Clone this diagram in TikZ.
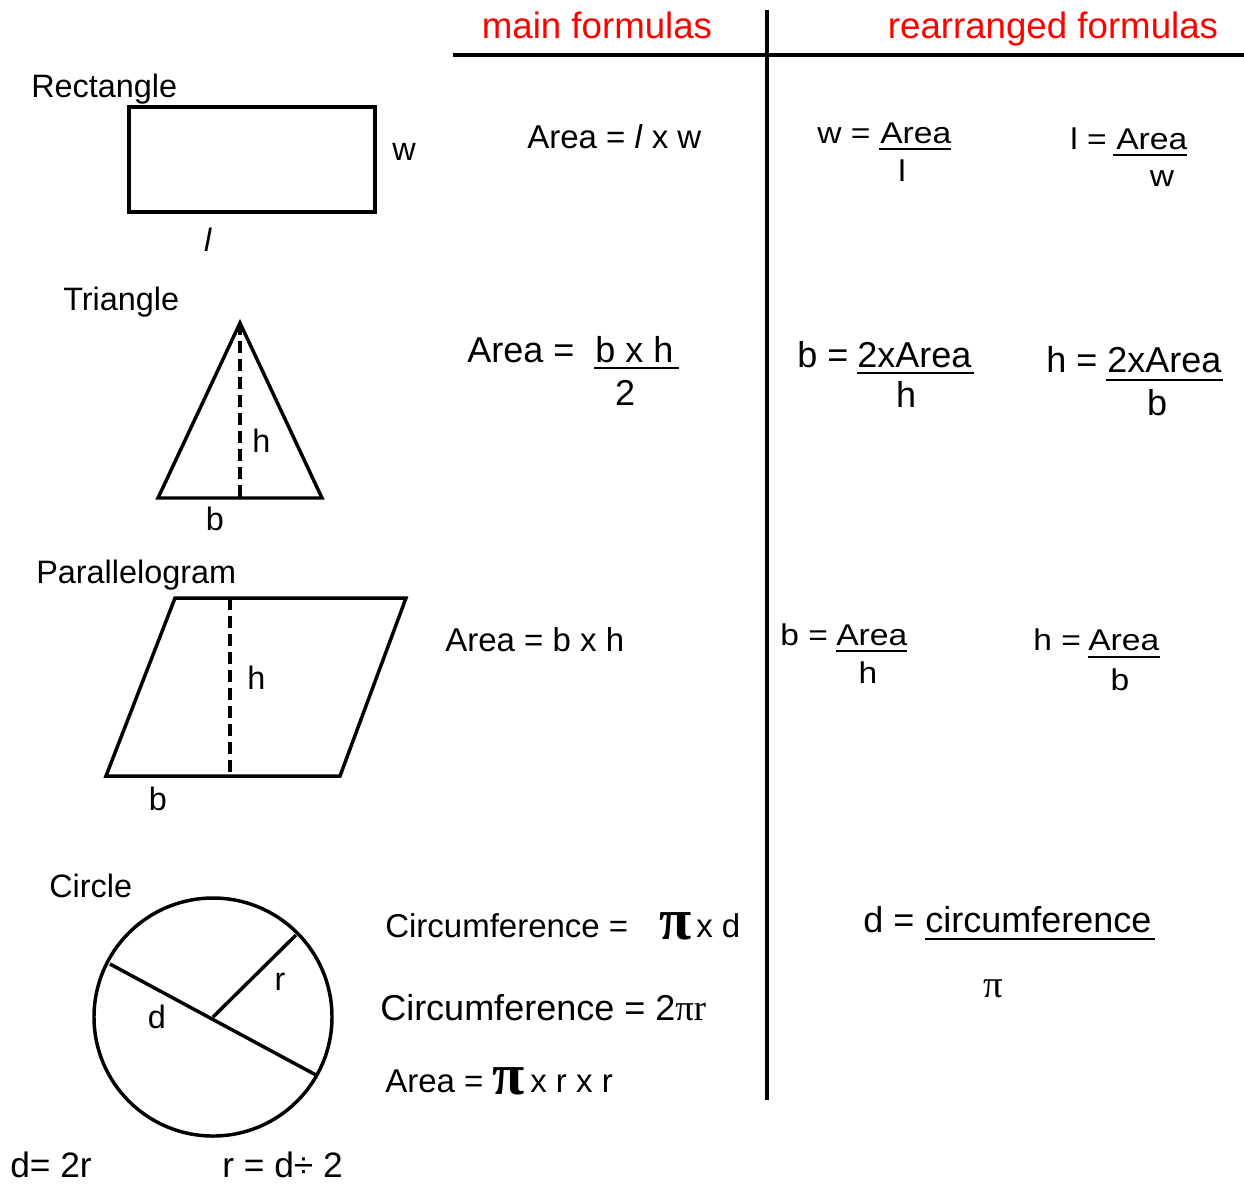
\documentclass[tikz,border=0pt]{standalone}
\usepackage{fontspec}
\setmainfont{Liberation Sans}
\newfontfamily\serifpi{Liberation Serif}
\newfontfamily\widesans[FakeStretch=1.12]{Liberation Sans}
\newcommand{\bpi}{{\serifpi\bfseries\fontsize{44}{44}\selectfont π}}
\begin{document}
\begin{tikzpicture}[x=0.75pt,y=-0.75pt,
  title/.style={text=red, inner sep=0, anchor=base, font=\fontsize{27.5}{30}\selectfont},
  heavy/.style={line width=3pt},
  shp/.style={line width=2.6pt, line join=miter},
  dsh/.style={line width=2.6pt, dash pattern=on 9pt off 4.5pt},
  lab/.style={inner sep=0, anchor=base west, font=\fontsize{24.3}{27}\selectfont},
  labc/.style={lab, anchor=base},
  fm/.style={inner sep=0, anchor=base west, font=\fontsize{24.75}{28}\selectfont},
  fmc/.style={fm, anchor=base},
  bot/.style={inner sep=0, anchor=base west, font=\fontsize{26.5}{29}\selectfont},
  big/.style={inner sep=0, anchor=base west, font=\fontsize{27}{30}\selectfont},
  bigc/.style={big, anchor=base},
  fr/.style={inner sep=0, anchor=base west, font=\widesans\fontsize{22.5}{26}\selectfont},
  frc/.style={fr, anchor=base},
  ul/.style={line width=1.6pt}
]
\useasboundingbox (0,0) rectangle (1244,1183);

% headings and dividers
\node[title] (mainT) at (597,38) {main formulas};
\node[title] (rearT) at (1053,38) {rearranged formulas};
\draw[heavy] (453,55) -- (1244,55);
\draw[heavy] (767,10) -- (767,1100);

% Rectangle
\node[lab] (rectT) at (31,97) {Rectangle};
\draw[shp] (129,107) rectangle (375,212);
\node[lab] (rw) at (392,160) {w};
\node[labc] (rl) at (208,251) {\textit{l}};
\node[fm] (rA) at (527,148) {Area = \textit{l} x w};
\node[fr] (w1) at (817,143) {w =};
\node[fr] (w2) at (880,143) {Area};
\draw[ul] (879,149) -- (951,149);
\node[frc] (w3) at (902,181) {l};
\node[fr] (l1) at (1070,149) {l =};
\node[fr] (l2) at (1116,149) {Area};
\draw[ul] (1113,155) -- (1187,155);
\node[frc] (l3) at (1162,186) {w};

% Triangle
\node[lab] (triT) at (63,310) {Triangle};
\draw[shp] (240,323) -- (322,498) -- (158,498) -- cycle;
\draw[dsh] (240,323) -- (240,498);
\node[lab] (th) at (252,452) {h};
\node[labc] (tb) at (215,530) {b};
\node[big] (tA1) at (467,362) {Area =};
\node[big] (tA2) at (595,362) {b x h};
\draw[ul] (594,368) -- (679,368);
\node[bigc] (tA3) at (625,405) {2};
\node[big] (tb1) at (797,367) {b =};
\node[big] (tb2) at (857,367) {2xArea};
\draw[ul] (857,373) -- (974,373);
\node[bigc] (tb3) at (906,407) {h};
\node[big] (th1) at (1046,372) {h =};
\node[big] (th2) at (1107,372) {2xArea};
\draw[ul] (1106,380) -- (1223,380);
\node[bigc] (th3) at (1157,415) {b};

% Parallelogram
\node[lab] (parT) at (36,583) {Parallelogram};
\draw[shp] (175,598) -- (406,598) -- (340,776) -- (106,776) -- cycle;
\draw[dsh] (230,598) -- (230,776);
\node[lab] (ph) at (247,689) {h};
\node[labc] (pb) at (158,810) {b};
\node[fm] (pA) at (445,651) {Area = b x h};
\node[fr] (pb1) at (780,645) {b =};
\node[fr] (pb2) at (836,645) {Area};
\draw[ul] (836,651) -- (907,651);
\node[frc] (pb3) at (868,683) {h};
\node[fr] (ph1) at (1033,650) {h =};
\node[fr] (ph2) at (1088,650) {Area};
\draw[ul] (1088,657) -- (1160,657);
\node[frc] (ph3) at (1120,690) {b};

% Circle
\node[lab] (cirT) at (49,897) {Circle};
\coordinate (cc) at (213,1017);
\draw[shp] (cc) circle[radius=89.25pt];
\coordinate (d1) at (110,964);
\coordinate (d2) at (316,1075);
\coordinate (r1) at (296,935);
\draw[shp] (d1) -- (d2);
\draw[shp] (cc) -- (r1);
\node[labc] (cr) at (280,990) {r};
\node[labc] (cd) at (157,1028) {d};
\node[fm] (c1) at (385,937) {Circumference =};
\node[inner sep=0, anchor=base west] (c1p) at (659,939) {\bpi};
\node[fm] (c1x) at (696,937) {x d};
\node[big] (c2) at (380,1020) {Circumference = 2{\serifpi\fontsize{27.5}{30}\selectfont πr}};
\node[fm] (c3) at (385,1092) {Area =};
\node[inner sep=0, anchor=base west] (c3p) at (492,1094) {\bpi};
\node[fm] (c3x) at (530,1092) {x r x r};
\node[big] (cd1) at (863,932) {d =};
\node[big] (cd2) at (925,932) {circumference};
\draw[ul] (925,939) -- (1155,939);
\node[inner sep=0, anchor=base, font=\serifpi\fontsize{29}{30}\selectfont] (cd3) at (993,997) {π};
\node[bot] (dd) at (10,1177) {d= 2r};
\node[bot] (rd) at (222,1177) {r = d÷ 2};
\end{tikzpicture}
\end{document}
